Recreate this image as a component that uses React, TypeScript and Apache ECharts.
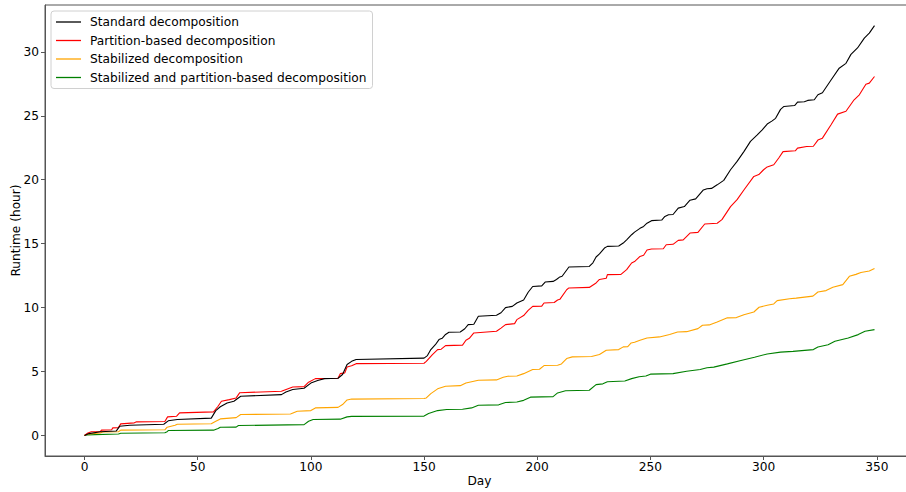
import React, { useEffect, useRef } from "react";
import * as echarts from "echarts";

const seriesNames = [
  "Standard decomposition",
  "Partition-based decomposition",
  "Stabilized decomposition",
  "Stabilized and partition-based decomposition",
];

const xTicks = [0, 50, 100, 150, 200, 250, 300, 350];
const yTicks = [0, 5, 10, 15, 20, 25, 30];

const standard: [number, number][] = [
  [0, 0], [2, 0.15], [7, 0.3], [14, 0.35], [15.5, 0.72], [20, 0.8], [35, 0.88], [37, 1.15], [41, 1.25], [56, 1.36],
  [58, 1.95], [60, 2.25], [63, 2.55], [66, 2.68], [69, 3.07], [87, 3.2], [89, 3.4], [92, 3.6], [97, 3.7], [100, 4.1],
  [103, 4.3], [106, 4.45], [112, 4.48], [114, 4.77], [116, 5.55], [118, 5.8], [120, 5.95], [150, 6.05], [151.5, 6.25],
  [153, 6.72], [155, 7.1], [156.6, 7.5], [158, 7.6], [159.5, 7.9], [161, 8.07], [166, 8.1], [168, 8.35], [169.5, 8.67],
  [172, 8.7], [174, 9.32], [182, 9.4], [184, 9.6], [186, 10.0], [189, 10.1], [191, 10.36], [194, 10.6], [196, 11.2],
  [198, 11.65], [202, 11.7], [203.5, 12.0], [207, 12.05], [208.5, 12.2], [210, 12.4], [211, 12.45], [214, 13.18],
  [223, 13.22], [224.6, 13.5], [226, 13.96], [227.5, 14.2], [229.7, 14.66], [231, 14.79], [236, 14.82], [238, 15.05],
  [239.5, 15.3], [241.7, 15.7], [243, 15.9], [245.4, 16.2], [247, 16.35], [248.5, 16.6], [250.5, 16.8], [255, 16.85],
  [256.4, 17.13], [258, 17.26], [260, 17.28], [262.3, 17.78], [265, 17.9], [267.5, 18.4], [270, 18.5], [273.4, 19.2],
  [275, 19.3], [277, 19.32], [279.5, 19.6], [282.4, 19.95], [285.4, 20.78], [288.3, 21.43], [291.3, 22.2], [294.2, 23.0],
  [297.2, 23.5], [299.4, 23.9], [301.6, 24.35], [303.8, 24.6], [305.3, 24.8], [307.5, 25.5], [309, 25.73], [313.7, 25.8],
  [315, 26.07], [318, 26.1], [319.5, 26.2], [322.4, 26.25], [324, 26.64], [326, 26.8], [329.8, 27.8], [333.4, 28.72],
  [336.4, 29.1], [338.6, 29.8], [341.5, 30.3], [344.5, 31.07], [346.7, 31.46], [349, 32.05],
];

const partition: [number, number][] = [
  [0, 0], [1.5, 0.2], [3, 0.3], [7, 0.3], [7.5, 0.42], [12, 0.45], [12.5, 0.6], [15, 0.62], [16, 0.91], [22, 0.99],
  [23, 1.07], [35.5, 1.1], [36.7, 1.46], [40.7, 1.51], [42, 1.77], [57, 1.85], [59, 2.29], [60.5, 2.68], [64, 2.81],
  [67, 2.94], [68.6, 3.35], [87, 3.46], [92, 3.8], [97, 3.82], [99, 4.17], [102, 4.45], [112, 4.48], [113, 4.84],
  [115, 4.9], [116, 5.36], [118, 5.45], [120, 5.62], [150, 5.65], [151, 5.8], [153.7, 6.33], [156, 6.72], [157.6, 6.75],
  [159.5, 7.03], [167, 7.07], [168.5, 7.45], [170, 7.6], [172, 8.02], [182, 8.15], [184, 8.4], [186, 8.67], [190, 8.75],
  [191, 9.06], [194, 9.38], [196, 9.79], [198, 10.1], [202, 10.12], [203, 10.36], [207.5, 10.4], [209, 10.6], [210, 10.65],
  [213, 11.4], [214, 11.54], [223, 11.58], [226, 11.93], [227.5, 12.2], [230.5, 12.3], [231, 12.58], [237, 12.6],
  [239.5, 12.97], [241.7, 13.49], [243, 13.6], [245.4, 14.0], [247, 14.1], [248.5, 14.5], [250.5, 14.58], [255.7, 14.6],
  [257, 14.92], [260, 14.95], [262.3, 15.26], [264.5, 15.3], [267.5, 15.83], [271, 15.88], [274, 16.54], [279.5, 16.6],
  [281.6, 16.88], [285.4, 17.9], [288.3, 18.44], [291.3, 19.2], [295.7, 20.26], [297.9, 20.4], [300, 20.78], [301.6, 21.0],
  [304.5, 21.17], [306.7, 21.7], [308.6, 22.2], [314, 22.26], [315, 22.47], [319, 22.6], [322, 22.62], [324, 23.1],
  [326, 23.25], [329.8, 24.3], [332.7, 25.13], [336.4, 25.35], [340, 26.25], [342.3, 26.64], [345.2, 27.47],
  [346.7, 27.55], [349, 28.07],
];

const stabilized: [number, number][] = [
  [0, 0], [1, 0.1], [7, 0.2], [8, 0.28], [15, 0.3], [16, 0.42], [35.5, 0.45], [36.5, 0.65], [40, 0.8], [41, 0.88],
  [56, 0.92], [58, 1.12], [60, 1.3], [67, 1.4], [69, 1.64], [91, 1.68], [94, 1.9], [100, 1.95], [102, 2.16], [112, 2.2],
  [114, 2.42], [116, 2.78], [118, 2.85], [150, 2.9], [151, 2.94], [153, 3.28], [156, 3.65], [159.5, 3.85], [166, 3.9],
  [168.5, 4.11], [174, 4.32], [182, 4.35], [185, 4.55], [187, 4.64], [191, 4.66], [194, 4.84], [198, 5.16], [201, 5.18],
  [203, 5.47], [209, 5.5], [210.7, 5.6], [213, 6.02], [215.5, 6.15], [224, 6.18], [227.5, 6.33], [230.5, 6.67], [236, 6.72],
  [238, 6.93], [240, 6.95], [241.5, 7.24], [243, 7.3], [245.4, 7.45], [248.5, 7.63], [254, 7.71], [258.5, 7.9], [262, 8.1],
  [266, 8.12], [271, 8.36], [273, 8.62], [276, 8.65], [279.5, 8.88], [284, 9.2], [288, 9.22], [291.3, 9.45], [295.7, 9.66],
  [298, 10.03], [301.6, 10.18], [304.5, 10.29], [306, 10.55], [311.5, 10.7], [314.4, 10.74], [321.8, 10.9], [324, 11.22],
  [327.6, 11.33], [330.6, 11.59], [335, 11.8], [337.9, 12.45], [340.8, 12.6], [343, 12.75], [346.7, 12.86], [349, 13.05],
];

const stabilizedPartition: [number, number][] = [
  [0, 0], [1, 0.05], [15, 0.12], [16, 0.18], [35.5, 0.22], [36.5, 0.3], [37, 0.39], [57, 0.42], [59, 0.55], [60, 0.65],
  [67, 0.66], [68, 0.78], [97, 0.85], [99, 1.12], [101, 1.25], [113, 1.28], [116, 1.46], [118, 1.5], [150, 1.52],
  [152, 1.72], [156, 1.95], [160, 2.03], [167, 2.05], [171, 2.16], [174, 2.37], [183, 2.4], [186, 2.58], [191, 2.62],
  [194, 2.75], [197, 3.0], [207, 3.04], [209, 3.33], [212.5, 3.5], [223, 3.54], [226, 3.98], [229, 4.04], [231, 4.2],
  [238.7, 4.26], [241.7, 4.45], [245, 4.6], [248, 4.65], [250, 4.8], [260, 4.84], [266, 5.03], [272, 5.16], [275, 5.3],
  [278, 5.35], [284, 5.6], [290, 5.86], [296, 6.12], [301.6, 6.38], [307.5, 6.52], [313, 6.58], [322, 6.72], [324, 6.92],
  [328.5, 7.1], [331.5, 7.37], [337.4, 7.63], [341.8, 7.89], [344.8, 8.15], [349, 8.28],
];

const colors = ["#000000", "#ff0000", "#ffa500", "#008000"];

export default function App() {
  const ref = useRef<HTMLDivElement>(null);
  useEffect(() => {
    if (!ref.current) return;
    const chart = echarts.init(ref.current, undefined, { renderer: "svg" });
    const font = "DejaVu Sans";
    const fs = 12.2;
    const datasets = [standard, partition, stabilized, stabilizedPartition];
    chart.setOption({
      animation: false,
      backgroundColor: "#ffffff",
      textStyle: { fontFamily: font },
      grid: {
        left: 45,
        top: 5,
        width: 869,
        height: 451,
        show: true,
        borderColor: "#555555",
        borderWidth: 1,
        containLabel: false,
        outerBoundsMode: "none",
      },
      legend: {
        orient: "vertical",
        left: 51,
        top: 11,
        data: seriesNames,
        icon: "rect",
        itemWidth: 25,
        itemHeight: 1.3,
        itemGap: 4.5,
        padding: [4, 6, 4, 5],
        borderColor: "#d0d0d0",
        borderWidth: 1,
        borderRadius: 3,
        backgroundColor: "rgba(255,255,255,0.8)",
        textStyle: { fontFamily: font, fontSize: fs, color: "#000", padding: [0, 0, 0, 4], lineHeight: 14 },
      },
      xAxis: {
        type: "value",
        min: -17.45,
        max: 366.45,
        name: "Day",
        nameLocation: "middle",
        nameGap: 19,
        nameMoveOverlap: false,
        nameTextStyle: { fontFamily: font, fontSize: fs, color: "#000" },
        axisLine: { show: true, onZero: false, lineStyle: { color: "#555555", width: 1 } },
        axisTick: { show: true, length: 4, customValues: xTicks, lineStyle: { color: "#555555" } },
        axisLabel: { customValues: xTicks, margin: 5, fontFamily: font, fontSize: fs, color: "#000" },
        splitLine: { show: false },
      },
      yAxis: {
        type: "value",
        min: -1.6,
        max: 33.66,
        name: "Runtime (hour)",
        nameLocation: "middle",
        nameGap: 23,
        nameMoveOverlap: false,
        nameTextStyle: { fontFamily: font, fontSize: fs, color: "#000" },
        axisLine: { show: true, onZero: false, lineStyle: { color: "#555555", width: 1 } },
        axisTick: { show: true, length: 4, customValues: yTicks, lineStyle: { color: "#555555" } },
        axisLabel: { customValues: yTicks, margin: 6, fontFamily: font, fontSize: fs, color: "#000" },
        splitLine: { show: false },
      },
      series: seriesNames.map((name, i) => ({
        name,
        type: "line",
        data: datasets[i],
        symbol: "none",
        color: colors[i],
        lineStyle: { color: colors[i], width: 1.1 },
        itemStyle: { color: colors[i] },
        z: 10 - i,
      })),
    });
    return () => chart.dispose();
  }, []);
  return (
    <div
      ref={ref}
      style={{ position: "absolute", left: 0, top: 0, width: 906, height: 492 }}
    />
  );
}
